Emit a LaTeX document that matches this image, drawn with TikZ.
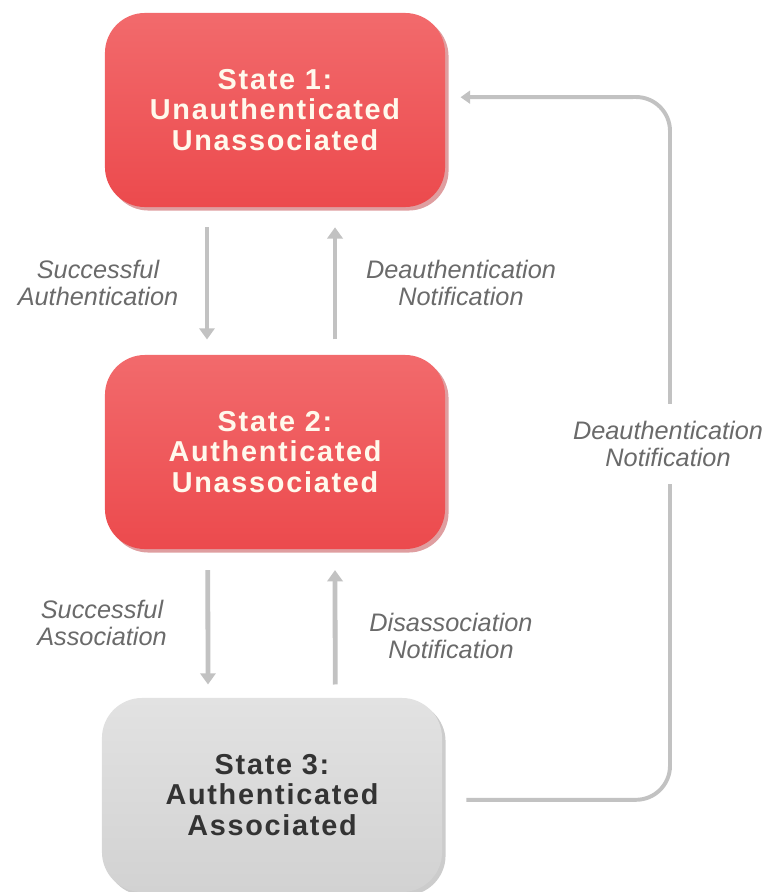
\documentclass[tikz,border=0pt]{standalone}
\usepackage{fontspec}
\setsansfont{Liberation Sans}
\newfontfamily\statefont[LetterSpace=6]{Liberation Sans}
\usetikzlibrary{arrows.meta,positioning,shadows}
\definecolor{redtop}{HTML}{F26A6C}
\definecolor{redbot}{HTML}{EC4A4D}
\definecolor{redshade}{HTML}{B8282C}
\definecolor{greytop}{HTML}{E2E2E2}
\definecolor{greybot}{HTML}{D2D2D2}
\definecolor{cream}{HTML}{FFF9EC}
\definecolor{inkgrey}{HTML}{333333}
\definecolor{notegrey}{HTML}{6A6A6A}
\definecolor{linegrey}{HTML}{C2C2C2}
\tikzset{
  box/.style={rounded corners=1cm,minimum width=8.5cm,minimum height=4.85cm,align=center,
              font=\statefont\bfseries\fontsize{20.5}{21.5}\selectfont},
  stbox/.style={box,text=cream,top color=redtop,bottom color=redbot,
              drop shadow={shadow xshift=2.5pt,shadow yshift=-2.5pt,fill=redshade,opacity=0.45}},
  stgrey/.style={box,top color=greytop,bottom color=greybot,text=inkgrey,
              drop shadow={shadow xshift=2.5pt,shadow yshift=-2.5pt,fill=black,opacity=0.2}},
  note/.style={font=\sffamily\itshape\fontsize{18}{19.5}\selectfont,text=notegrey,align=center},
  arr/.style={-{Triangle[length=2.8mm,width=3.8mm]},line width=3.4pt,linegrey},
  back/.style={-{Triangle[length=2.4mm,width=3.2mm]},line width=2.8pt,linegrey,rounded corners=0.85cm},
}
\begin{document}
\begin{tikzpicture}[x=0.025cm,y=-0.025cm]
  \useasboundingbox (0,0) rectangle (770,892);
  % the three states
  \node[stbox]  (s1) at (275,110) {State 1:\\Unauthenticated\\Unassociated};
  \node[stbox]  (s2) at (275,452) {State 2:\\Authenticated\\Unassociated};
  \node[stgrey] (s3) at (272,795) {State 3:\\Authenticated\\Associated};
  % transitions between neighbours
  \draw[arr] ([xshift=-1.7cm,yshift=-0.5cm]s1.south) -- ([xshift=-1.7cm,yshift=0.38cm]s2.north);
  \draw[arr] ([xshift=1.5cm,yshift=0.38cm]s2.north) -- ([xshift=1.5cm,yshift=-0.5cm]s1.south);
  \draw[arr] ([xshift=-1.68cm,yshift=-0.52cm]s2.south) -- ([xshift=-1.6cm,yshift=0.33cm]s3.north);
  \draw[arr] ([xshift=1.58cm,yshift=0.33cm]s3.north) -- ([xshift=1.5cm,yshift=-0.52cm]s2.south);
  \node[note] (n1) at (98,283)  {Successful\\Authentication};
  \node[note] (n2) at (461,283) {Deauthentication\\Notification};
  \node[note] (n3) at (102,623) {Successful\\Association};
  \node[note] (n4) at (451,636) {Disassociation\\Notification};
  % way back from state 3
  \coordinate (bend) at (670,97);
  \draw[back] ([xshift=0.6cm,yshift=-0.12cm]s3.east) -| (bend) -- ([xshift=0.38cm,yshift=0.32cm]s1.east);
  \node[note,fill=white,inner ysep=12pt] (n5) at (668,444) {Deauthentication\\Notification};
\end{tikzpicture}
\end{document}
